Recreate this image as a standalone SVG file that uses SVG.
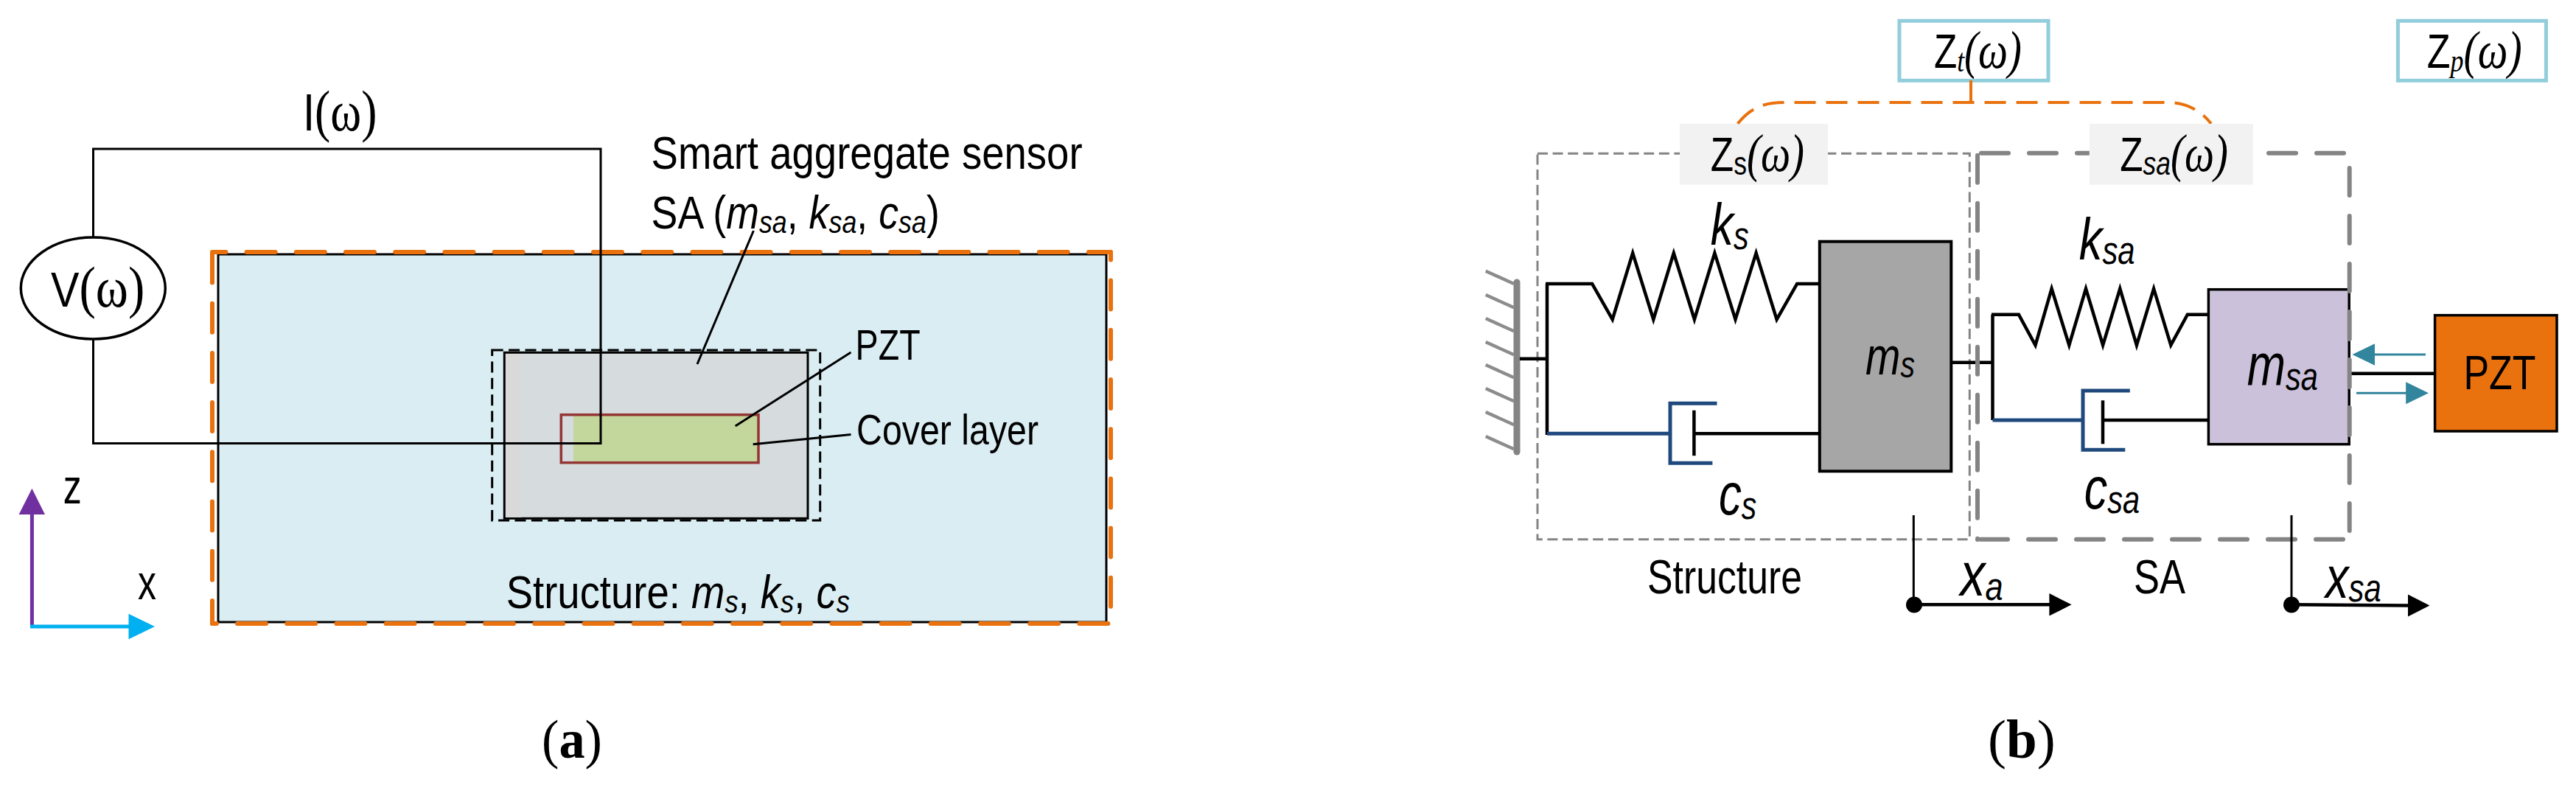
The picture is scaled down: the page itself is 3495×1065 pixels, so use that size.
<svg xmlns="http://www.w3.org/2000/svg" width="3495" height="1065" viewBox="0 0 3495 1065">
<style>
text{font-family:"Liberation Sans",Arial,sans-serif;fill:#000}
.w{font-family:"Liberation Serif","Times New Roman",serif}
.i{font-style:italic}
.wi{font-family:"Liberation Serif","Times New Roman",serif;font-style:italic}
.wire{fill:none;stroke:#000;stroke-width:4.5}
.thin{fill:none;stroke:#000;stroke-width:3}
.blue{fill:none;stroke:#1F497D;stroke-width:5}
.or{fill:none;stroke:#E9710E;stroke-width:6;stroke-linecap:round;stroke-dasharray:39 28.2}
.gb{fill:none;stroke:#848484;stroke-width:6;stroke-linecap:round;stroke-dasharray:37 28}
.gs{fill:none;stroke:#848484;stroke-width:3;stroke-dasharray:14 6.6}
.hatch{fill:none;stroke:#8C8C8C;stroke-width:4.5}
.cy{fill:#fff;stroke:#92CDDC;stroke-width:5}
.lab{fill:#F2F2F2}
.z{font-size:65px}
.zs{font-size:45px}
.p{font-size:72px}
.s42{font-size:42px}
.t58{font-size:58px}
.t63{font-size:63px}
.b80{font-size:80px;font-style:italic}
.s53{font-size:53px}
</style>
<g id="structure-a">
<rect x="296" y="345" width="1205" height="499" fill="#DAEDF3" stroke="#000" stroke-width="3"/>
<path class="or" stroke-dashoffset="20.6" d="M288 342H1507"/>
<path class="or" stroke-dashoffset="64.7" d="M288 342V846"/>
<path class="or" stroke-dashoffset="33.2" d="M288 846H1504"/>
<path class="or" stroke-dashoffset="28.6" d="M1507 342V846"/>
</g>
<g id="sa-a">
<rect x="684.3" y="478.3" width="411.7" height="225" fill="#D6DBDD" stroke="#000" stroke-width="3"/>
<rect x="686" y="480" width="21.5" height="222" fill="#D9D9D9"/>
<rect x="667.7" y="475" width="445" height="231" fill="none" stroke="#000" stroke-width="3" stroke-dasharray="15 7.4"/>
</g>
<g id="pzt-a">
<rect x="778" y="563" width="251" height="65" fill="#C3D69B"/>
<rect x="761.3" y="562.7" width="267.7" height="65" fill="none" stroke="#943634" stroke-width="3.5"/>
</g>
<g id="source"><ellipse cx="126.3" cy="391" rx="98" ry="69" fill="#fff" stroke="#000" stroke-width="3.5"/>
<text transform="translate(69 416) scale(.86 1)" font-size="67">V<tspan class="w" font-size="78">(ω)</tspan></text></g>
<g id="connectors-a">
<path class="thin" d="M126.5 322V202H815V601.5H126.5V460"/>
<path class="thin" d="M1022.4 313L946 494M1154.5 478L997.7 578M1154.5 589.4L1021.7 602.7"/>
<path d="M43.4 850V695" fill="none" stroke="#7030A0" stroke-width="5"/>
<path d="M43.4 662.8L61 698H25.6Z" fill="#7030A0"/>
<path d="M41 850H178" fill="none" stroke="#00B0F0" stroke-width="5"/>
<path d="M210 850L174.5 867.3V832.7Z" fill="#00B0F0"/>
</g>
<g id="labels-a">
<text transform="translate(411 176.5) scale(.816 1)" font-size="71">I<tspan class="w" font-size="78">(ω)</tspan></text>
<text x="883.6" y="229" class="t63" textLength="585" lengthAdjust="spacingAndGlyphs">Smart aggregate sensor</text>
<text transform="translate(883.6 309.6) scale(.853 1)" class="t63">SA (<tspan class="i">m</tspan><tspan class="i s42" dy="6">sa</tspan><tspan dy="-6">, </tspan><tspan class="i">k</tspan><tspan class="i s42" dy="6">sa</tspan><tspan dy="-6">, </tspan><tspan class="i">c</tspan><tspan class="i s42" dy="6">sa</tspan><tspan dy="-6">)</tspan></text>
<text x="1160.6" y="487.8" class="t58" textLength="88" lengthAdjust="spacingAndGlyphs">PZT</text>
<text x="1162" y="603" class="t58" textLength="247" lengthAdjust="spacingAndGlyphs">Cover layer</text>
<text transform="translate(686.7 824.6) scale(.865 1)" class="t63">Structure: <tspan class="i">m</tspan><tspan class="i s42" dy="6">s</tspan><tspan dy="-6">, </tspan><tspan class="i">k</tspan><tspan class="i s42" dy="6">s</tspan><tspan dy="-6">, </tspan><tspan class="i">c</tspan><tspan class="i s42" dy="6">s</tspan></text>
<text x="85.7" y="682.6" font-size="66" textLength="25" lengthAdjust="spacingAndGlyphs">z</text>
<text x="187" y="812.8" font-size="66" textLength="25" lengthAdjust="spacingAndGlyphs">x</text>
<text transform="translate(735 1028) scale(.95 1)" class="w" font-size="74">(<tspan font-weight="bold">a</tspan>)</text>
</g>
<g id="boxes-b">
<g id="zt"><rect class="cy" x="2577" y="28.3" width="202" height="81"/>
<text transform="translate(2624 91.7) scale(.787 1)" class="z">Z<tspan class="wi zs" dy="5">t</tspan><tspan class="wi p" dy="-5">(ω)</tspan></text></g>
<g id="zp"><rect class="cy" x="3253.4" y="28.3" width="201" height="81"/>
<text transform="translate(3292.8 91.7) scale(.8 1)" class="z">Z<tspan class="wi zs" dy="5">p</tspan><tspan class="wi p" dy="-5">(ω)</tspan></text></g>
</g>
<g id="structure-box"><rect class="gs" x="2086" y="208.3" width="586.3" height="523.4"/></g>
<g id="zs"><rect class="lab" x="2279" y="168" width="201" height="82.7"/>
<text transform="translate(2320.8 231.7) scale(.79 1)" class="z">Z<tspan class="zs" dy="5">s</tspan><tspan class="wi p" dy="-5">(ω)</tspan></text></g>
<g id="wall"><path d="M2058 383V613" fill="none" stroke="#848484" stroke-width="9" stroke-linecap="round"/>
<path class="hatch" d="M2015.7 367.7L2054 385M2015.7 400L2054 417.3M2015.7 432L2054 449.3M2015.7 464L2054 481.3M2015.7 495L2054 512.3M2015.7 527L2054 544.3M2015.7 559L2054 576.3M2015.7 592L2054 609.3"/></g>
<g id="connectors-b">
<path d="M2674 109V139" fill="none" stroke="#E9710E" stroke-width="4"/>
<path d="M2357.6 167.7C2376 145 2395 139 2420 139H2941C2965 139 2985 149 3000 167.7" fill="none" stroke="#E9710E" stroke-width="4" stroke-dasharray="29 14"/>
<path class="wire" d="M2062 486.7H2099M2099 385V590M2647 491.7H2703.5M2703.5 426.7V570"/>
<path class="wire" d="M2097 385H2160.1L2187.7 433.3L2215.2 343.3L2243.3 433.3L2270.8 343.3L2298.9 433.3L2326.4 343.3L2354.5 433.3L2382.6 343.3L2410.6 433.3L2438.2 385H2469"/>
<path class="wire" d="M2702 426.7H2738.9L2761.5 468.3L2783.6 391.7L2807.3 468.3L2830 391.7L2853.1 468.3L2876.3 391.7L2898.9 468.3L2922.1 391.7L2945.3 468.3L2967.9 426.7H2996"/>
<path class="blue" d="M2099 588.3H2266M2329.5 547.3H2266V628.3H2323.4"/>
<path class="blue" d="M2703.5 570H2826M2889.8 530H2826V610.3H2883.3"/>
<path class="wire" d="M2298.4 556.7V618.3M2298.4 588.3H2469M2853 543.3V602.3M2853 570H2996M3188 506.7H3304"/>
<path d="M3291 481H3222" fill="none" stroke="#31859C" stroke-width="3"/><path d="M3191.5 481L3222 466.2V495.8Z" fill="#31859C"/>
<path d="M3197 533.3H3265" fill="none" stroke="#31859C" stroke-width="3"/><path d="M3295 533.3L3264.2 518.3V548.3Z" fill="#31859C"/>
</g>
<g id="ms"><rect x="2468.8" y="327.7" width="178.5" height="311.6" fill="#A6A6A6" stroke="#000" stroke-width="4"/>
<text transform="translate(2531 508.3) scale(.78 1)" font-size="73" class="i">m<tspan font-size="50" dy="4">s</tspan></text></g>
<g id="msa"><rect x="2996.4" y="392.7" width="190.8" height="210" fill="#CCC1DA" stroke="#000" stroke-width="3.5"/>
<text transform="translate(3048.7 523.3) scale(.785 1)" class="b80">m<tspan class="s53" dy="6">sa</tspan></text></g>
<g id="sa-box">
<path class="gb" stroke-dashoffset="-3" d="M2683 207.7V732"/>
<path class="gb" stroke-dashoffset="-2" d="M2686 207.7H3188"/>
<path class="gb" stroke-dashoffset="-1" d="M3187.7 227V732"/>
<path class="gb" stroke-dashoffset="-1" d="M2686 731.7H3180"/>
</g>
<g id="zsa"><rect class="lab" x="2834.8" y="168" width="222" height="82.7"/>
<text transform="translate(2876.3 231.7) scale(.788 1)" class="z">Z<tspan class="i zs" dy="5">sa</tspan><tspan class="wi p" dy="-5">(ω)</tspan></text></g>
<g id="pzt-b"><rect x="3303.6" y="427.7" width="165.4" height="157.3" fill="#E9710E" stroke="#000" stroke-width="3.5"/>
<text x="3342.4" y="528.3" font-size="64" textLength="98" lengthAdjust="spacingAndGlyphs">PZT</text></g>
<g id="connectors-b2">
<path class="thin" d="M2596.3 699V820M3109 699V820"/>
<circle cx="2597" cy="820.5" r="11"/><circle cx="3109" cy="820.5" r="11"/>
<path class="wire" d="M2597 820.3H2782M3109 820.3L3268 821.5"/>
<path d="M2810.6 820.3L2780.4 805V835.6Z"/><path d="M3296.5 821.5L3267 806.5V836.5Z"/>
</g>
<g id="labels-b">
<text transform="translate(2320.8 332.3) scale(.78 1)" class="b80">k<tspan class="s53" dy="6">s</tspan></text>
<text transform="translate(2820.8 352.3) scale(.79 1)" class="b80">k<tspan class="s53" dy="6">sa</tspan></text>
<text transform="translate(2332 698) scale(.77 1)" class="b80">c<tspan class="s53" dy="6">s</tspan></text>
<text transform="translate(2827.8 690) scale(.785 1)" class="b80">c<tspan class="s53" dy="6">sa</tspan></text>
<text x="2235" y="805" font-size="65" textLength="210" lengthAdjust="spacingAndGlyphs">Structure</text>
<text x="2895" y="805" font-size="65" textLength="70" lengthAdjust="spacingAndGlyphs">SA</text>
<text transform="translate(2659.6 808) scale(.82 1)" font-size="83" class="i">x<tspan class="s53" dy="6">a</tspan></text>
<text transform="translate(3154.9 810.7) scale(.79 1)" class="b80">x<tspan class="s53" dy="5">sa</tspan></text>
<text transform="translate(2697 1028)" class="w" font-size="75">(<tspan font-weight="bold">b</tspan>)</text>
</g>
</svg>
